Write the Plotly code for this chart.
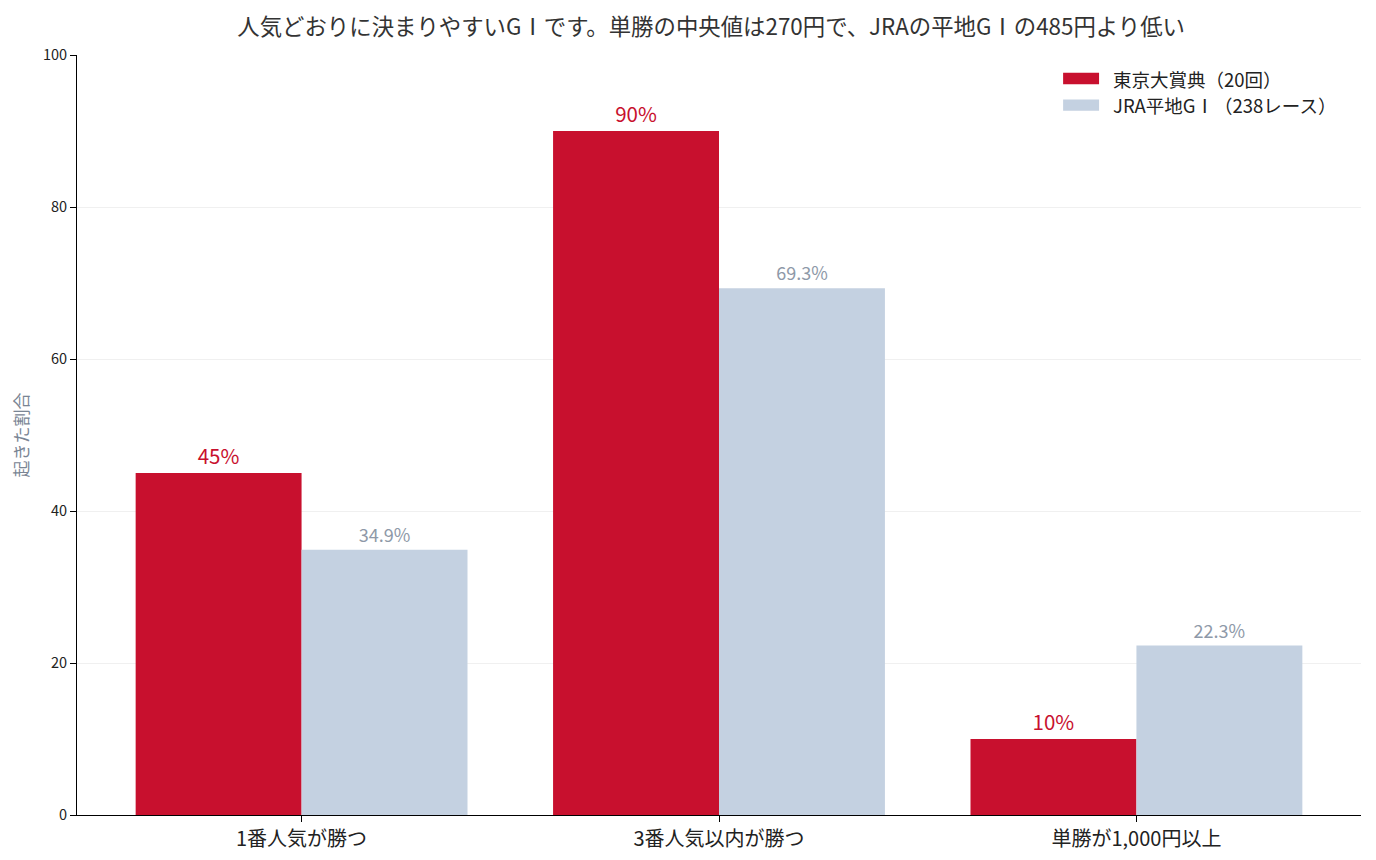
import plotly.graph_objects as go

FONT = "Noto Sans CJK JP"
RED = "#C8102E"
BLUE = "#C4D1E1"

categories = ["1番人気が勝つ", "3番人気以内が勝つ", "単勝が1,000円以上"]
tokyo = [45, 90, 10]
tokyo_text = ["45%", "90%", "10%"]
jra = [34.9, 69.3, 22.3]
jra_text = ["34.9%", "69.3%", "22.3%"]
y_ticks = [0, 20, 40, 60, 80, 100]
series_names = ["東京大賞典（20回）", "JRA平地GⅠ（238レース）"]


def make_plot() -> go.Figure:
    fig = go.Figure()
    fig.add_trace(go.Bar(
        x=categories, y=tokyo, name=series_names[0],
        marker_color=RED, marker_line_width=0,
        text=tokyo_text, textposition="outside",
        textfont=dict(color=RED, size=20.5, family=FONT),
        cliponaxis=False,
    ))
    fig.add_trace(go.Bar(
        x=categories, y=jra, name=series_names[1],
        marker_color=BLUE, marker_line_width=0,
        text=jra_text, textposition="outside",
        textfont=dict(color="#8E99A8", size=18, family=FONT),
        cliponaxis=False,
    ))

    # legend drawn by hand so the swatches can be wide bars like the original
    legend_rows = [(series_names[0], RED, 0.969), (series_names[1], BLUE, 0.934)]
    for name, color, yc in legend_rows:
        fig.add_shape(
            type="rect", xref="paper", yref="paper",
            x0=0.768, x1=0.796, y0=yc - 0.0075, y1=yc + 0.0075,
            fillcolor=color, line_width=0,
        )
        fig.add_annotation(
            text=name, xref="paper", yref="paper",
            x=0.8052, y=yc, xanchor="left", yanchor="middle",
            showarrow=False, font=dict(size=18.5, family=FONT, color="#222222"),
        )

    fig.update_layout(
        width=1360, height=844,
        barmode="group", bargap=0.205, bargroupgap=0,
        font=dict(family=FONT, color="#222222"),
        paper_bgcolor="white",
        plot_bgcolor="white",
        margin=dict(l=69, r=7, t=47, b=37),
        title=dict(
            text="人気どおりに決まりやすいGⅠです。単勝の中央値は270円で、JRAの平地GⅠの485円より低い",
            x=0.517, xanchor="center", y=0.977, yanchor="middle",
            font=dict(size=22.4, color="#333333", family=FONT),
        ),
        showlegend=False,
    )
    fig.update_xaxes(
        range=[-0.538, 2.538], automargin=False,
        showline=True, linecolor="black", linewidth=1,
        ticks="outside", ticklen=6, tickcolor="black",
        tickfont=dict(size=20, family=FONT, color="#222222"),
        showgrid=False,
    )
    fig.update_yaxes(
        range=[0, 100], tickvals=y_ticks, automargin=False,
        showline=True, linecolor="black", linewidth=1,
        ticks="outside", ticklen=6, tickcolor="black",
        tickfont=dict(size=14.5, family=FONT, color="#222222"),
        showgrid=True, gridcolor="#F0F0F0", gridwidth=1,
        zeroline=False,
        title=dict(text="起きた割合", font=dict(size=17, color="#7A8594", family=FONT), standoff=16),
    )
    return fig


def main() -> None:
    fig = make_plot()
    fig.write_html("out.html")


if __name__ == "__main__":
    main()
